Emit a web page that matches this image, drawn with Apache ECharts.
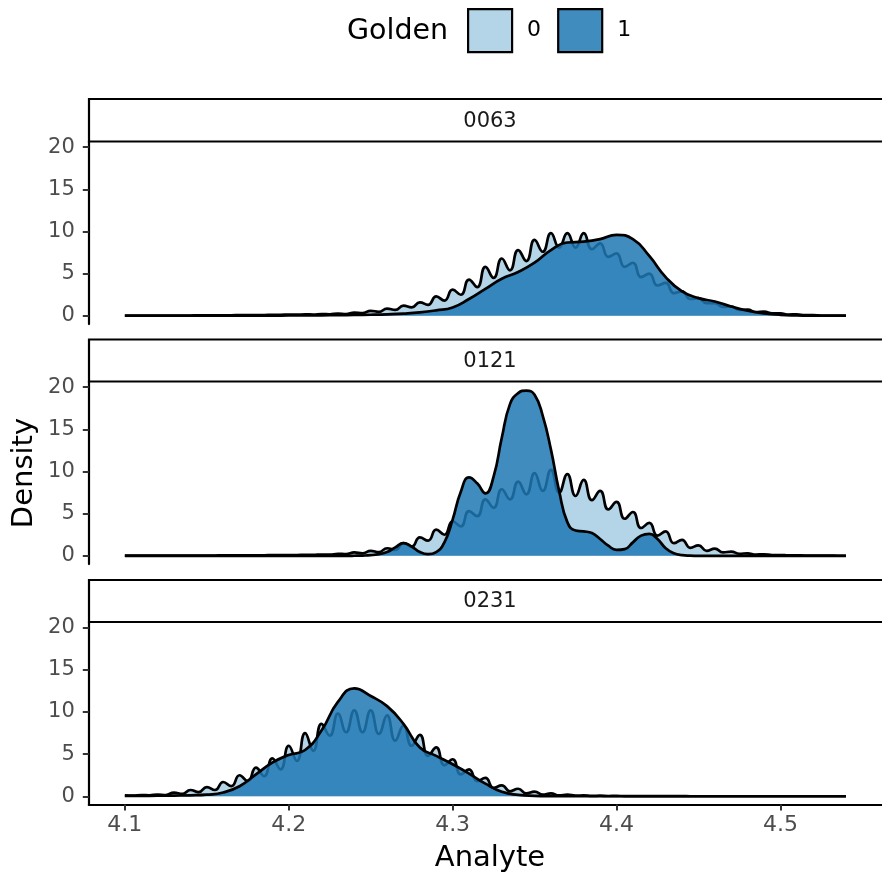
<!DOCTYPE html>
<html>
<head>
<meta charset="utf-8">
<script src="https://cdn.jsdelivr.net/npm/echarts@6/dist/echarts.min.js"></script>
<style>
html,body{margin:0;padding:0;background:#fff;}
#c{width:882px;height:876px;}
</style>
</head>
<body>
<div id="c"></div>
<script>
// ---------------- data ----------------
const panels = ['0063', '0121', '0231'];
const groups = ['0', '1'];
const xTicks = [4.1, 4.2, 4.3, 4.4, 4.5];
const yTicks = [0, 5, 10, 15, 20];

const xFine = [
  4.100,4.105,4.110,4.115,4.120,4.125,4.130,4.135,4.140,4.145,
  4.150,4.155,4.160,4.165,4.170,4.175,4.180,4.185,4.190,4.195,
  4.200,4.205,4.210,4.215,4.220,4.225,4.230,4.235,4.240,4.245,
  4.250,4.255,4.260,4.265,4.270,4.275,4.280,4.285,4.290,4.295,
  4.300,4.305,4.310,4.315,4.320,4.325,4.330,4.335,4.340,4.345,
  4.350,4.355,4.360,4.365,4.370,4.375,4.380,4.385,4.390,4.395,
  4.400,4.405,4.410,4.415,4.420,4.425,4.430,4.435,4.440,4.445,
  4.450,4.455,4.460,4.465,4.470,4.475,4.480,4.485,4.490,4.495,
  4.500,4.505,4.510,4.515,4.520,4.525,4.530,4.535,4.540
];
const xCoarse = [
  4.10,4.11,4.12,4.13,4.14,4.15,4.16,4.17,4.18,4.19,
  4.20,4.21,4.22,4.23,4.24,4.25,4.26,4.27,4.28,4.29,
  4.30,4.31,4.32,4.33,4.34,4.35,4.36,4.37,4.38,4.39,
  4.40,4.41,4.42,4.43,4.44,4.45,4.46,4.47,4.48,4.49,
  4.50,4.51,4.52,4.53,4.54
];

// panel 0063
const p0063_g0 = [
  0.02,0.02,0.02,0.02,0.03,0.03,0.03,0.04,0.04,0.05,
  0.05,0.06,0.07,0.07,0.08,0.08,0.10,0.10,0.12,0.12,
  0.15,0.14,0.18,0.16,0.22,0.19,0.28,0.22,0.38,0.33,
  0.60,0.48,0.85,0.70,1.20,1.00,1.60,1.30,2.30,1.80,
  3.10,2.50,4.30,3.40,5.80,4.50,6.80,5.40,7.80,6.50,
  9.00,7.60,9.80,8.10,9.80,8.10,9.80,7.90,8.60,7.00,
  7.40,5.80,6.30,4.60,5.00,3.60,3.90,2.70,2.90,2.00,
  2.10,1.50,1.50,1.05,1.10,0.70,0.75,0.45,0.50,0.30,
  0.30,0.15,0.18,0.08,0.08,0.04,0.04,0.02,0.02
];
const p0063_g1 = [
  0.01,0.01,0.01,0.01,0.01,0.02,0.02,0.02,0.03,0.03,
  0.04,0.05,0.06,0.08,0.10,0.13,0.18,0.26,0.40,0.65,
  1.00,2.00,3.20,4.40,5.20,6.30,7.80,8.70,8.80,9.10,
  9.60,9.10,7.10,4.60,2.90,2.10,1.70,1.10,0.60,0.30,
  0.12,0.05,0.02,0.01,0.01
];

// panel 0121
const p0121_g0 = [
  0.02,0.02,0.02,0.02,0.02,0.02,0.03,0.03,0.03,0.03,
  0.04,0.04,0.05,0.05,0.06,0.06,0.07,0.07,0.08,0.08,
  0.10,0.09,0.12,0.11,0.16,0.14,0.25,0.20,0.40,0.30,
  0.60,0.45,0.90,0.70,1.50,1.10,2.20,1.80,3.10,2.50,
  4.10,3.50,5.30,4.70,6.70,5.70,7.90,6.70,8.80,7.30,
  9.80,7.70,10.20,7.50,9.70,7.10,9.00,6.60,7.70,5.50,
  6.40,4.40,5.20,3.30,3.90,2.40,2.90,1.50,1.90,0.95,
  1.25,0.60,0.85,0.40,0.50,0.25,0.30,0.15,0.18,0.09,
  0.10,0.05,0.06,0.03,0.03,0.02,0.02,0.01,0.01
];
const p0121_g1 = [
  0,0,0,0,0,0,0,0,0,0,
  0,0,0,0,0,0,0,0,0,0,
  0,0,0,0,0,0,0,0,0.01,0.03,
  0.08,0.20,0.45,1.00,1.50,1.10,0.45,0.20,0.45,1.60,
  4.30,7.60,9.30,8.60,7.40,9.40,14.00,18.00,19.30,19.60,
  19.10,16.60,12.60,7.70,4.00,3.00,2.90,2.70,2.00,1.20,
  0.70,0.80,1.60,2.40,2.60,2.00,0.90,0.30,0.08,0.02,
  0,0,0,0,0,0,0,0,0,0,
  0,0,0,0,0,0,0,0,0
];

// panel 0231
const p0231_g0 = [
  0.12,0.10,0.16,0.12,0.22,0.16,0.45,0.30,0.75,0.50,
  1.10,0.75,1.70,1.20,2.50,1.80,3.40,2.40,4.50,3.20,
  6.00,4.20,7.50,5.40,8.60,7.20,9.80,7.60,10.20,7.60,
  10.20,7.40,9.60,6.60,8.40,6.00,7.30,4.80,5.80,3.70,
  4.40,2.60,3.20,1.80,2.20,1.00,1.30,0.60,0.90,0.35,
  0.55,0.20,0.35,0.12,0.20,0.08,0.12,0.05,0.08,0.04,
  0.05,0.03,0.03,0.02,0.02,0.02,0.02,0.02,0.02,0.01,
  0.01,0.01,0.01,0.01,0.01,0.01,0.01,0.01,0.01,0.01,
  0.01,0.01,0.01,0.01,0.01,0.01,0.01,0.01,0.01
];
const p0231_g1 = [
  0.05,0.06,0.07,0.09,0.12,0.20,0.45,1.20,2.60,4.00,
  4.90,5.50,7.80,11.20,12.80,11.90,10.70,8.60,5.80,4.80,
  3.80,2.70,1.50,0.55,0.18,0.06,0.02,0.01,0.01,0.01,
  0.01,0.01,0.01,0.01,0.01,0.01,0.01,0.01,0.01,0.01,
  0.01,0.01,0.01,0.01,0.01
];

// ---------------- layout / style ----------------
const FONT = 'DejaVu Sans';
const gridTops = [141.5, 381.5, 622];
const stripTops = [99, 339.5, 580];
const gridH = 182.6;
const gridLeft = 88.8;
const gridW = 802;
const fillCol = ['rgba(166,206,227,0.85)', 'rgba(31,120,180,0.85)'];

const panelSets = [
  { g0: p0063_g0, x0: xFine, g1: p0063_g1, x1: xCoarse },
  { g0: p0121_g0, x0: xFine, g1: p0121_g1, x1: xFine },
  { g0: p0231_g0, x0: xFine, g1: p0231_g1, x1: xCoarse }
];

const grids = [], xAxes = [], yAxes = [], series = [], graphics = [];
panelSets.forEach((p, i) => {
  const bottom = i === panelSets.length - 1;
  grids.push({ left: gridLeft, top: gridTops[i], width: gridW, height: gridH });
  xAxes.push({
    type: 'value', gridIndex: i, min: 4.078, max: 4.562,
    axisLine: { show: bottom, onZero: false, lineStyle: { color: '#000', width: 2.2 } },
    axisTick: { show: bottom, customValues: xTicks, length: 6, lineStyle: { color: '#333', width: 2 } },
    axisLabel: { show: bottom, customValues: xTicks, color: '#4d4d4d', fontSize: 22, fontFamily: FONT, margin: 10,
                 formatter: v => v.toFixed(1) },
    splitLine: { show: false }
  });
  yAxes.push({
    type: 'value', gridIndex: i, min: -0.98, max: 20.68,
    axisLine: { show: true, onZero: false, lineStyle: { color: '#000', width: 2.2 } },
    axisTick: { show: true, customValues: yTicks, length: 6, lineStyle: { color: '#333', width: 2 } },
    axisLabel: { show: true, customValues: yTicks, color: '#4d4d4d', fontSize: 21, fontFamily: FONT, margin: 14 },
    splitLine: { show: false }
  });
  [[p.x0, p.g0], [p.x1, p.g1]].forEach((pair, g) => {
    series.push({
      type: 'line', name: groups[g], xAxisIndex: i, yAxisIndex: i, z: 2 + g,
      data: pair[0].map((x, j) => [x, pair[1][j]]),
      smooth: 0.5, symbol: 'none', silent: true,
      lineStyle: { color: '#000', width: 2.7 },
      itemStyle: { color: fillCol[g] },
      areaStyle: { color: fillCol[g], opacity: 1 }
    });
  });
  graphics.push({
    type: 'rect', z: 10,
    shape: { x: 89, y: stripTops[i], width: 820, height: gridTops[i] - stripTops[i] },
    style: { fill: '#fff', stroke: '#000', lineWidth: 2.2 }
  });
  graphics.push({
    type: 'text', z: 11, x: 490, y: stripTops[i] + (gridTops[i] - stripTops[i]) / 2 + 1,
    style: { text: panels[i], fontSize: 21, fontFamily: FONT, fill: '#1a1a1a', align: 'center', verticalAlign: 'middle' }
  });
});

graphics.push({
  type: 'text', x: 24, y: 473, rotation: Math.PI / 2,
  style: { text: 'Density', fontSize: 29, fontFamily: FONT, fill: '#000', align: 'center', verticalAlign: 'middle' }
});
graphics.push({
  type: 'text', x: 490, y: 858,
  style: { text: 'Analyte', fontSize: 29, fontFamily: FONT, fill: '#000', align: 'center', verticalAlign: 'middle' }
});
graphics.push({
  type: 'text', x: 347, y: 32,
  style: { text: 'Golden', fontSize: 28.5, fontFamily: FONT, fill: '#000', align: 'left', verticalAlign: 'middle' }
});

const chart = echarts.init(document.getElementById('c'));
chart.setOption({
  animation: false,
  backgroundColor: '#fff',
  grid: grids,
  xAxis: xAxes,
  yAxis: yAxes,
  legend: {
    left: 467, top: 8, padding: 0, itemWidth: 44, itemHeight: 43, itemGap: 16, icon: 'rect', selectedMode: false,
    textStyle: { fontSize: 22, fontFamily: FONT, color: '#000', padding: [4, 0, 0, 10] },
    data: groups.map((g, k) => ({ name: g, itemStyle: { color: fillCol[k], borderColor: '#000', borderWidth: 2.2 } }))
  },
  graphic: graphics,
  series: series
});
</script>
</body>
</html>
